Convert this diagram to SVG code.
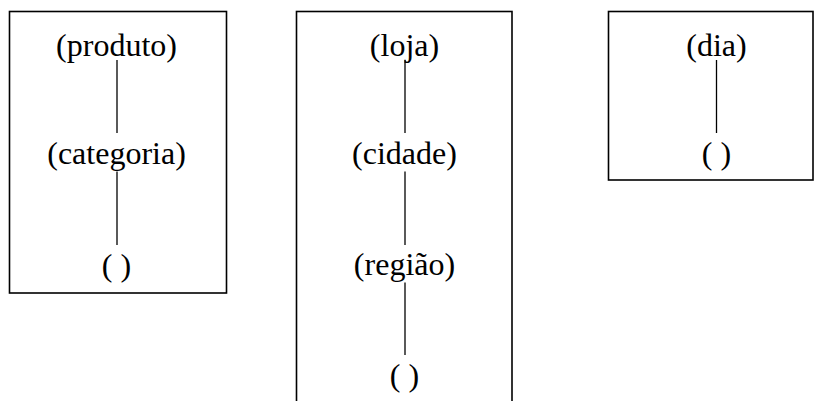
<svg xmlns="http://www.w3.org/2000/svg" width="814" height="401" viewBox="0 0 814 401">
<style>
.box{fill:none;stroke:#000;stroke-width:1.6}
.ln{stroke:#000;stroke-width:1.3;fill:none}
text{font-family:"Liberation Serif","Times New Roman",serif;font-size:32px;fill:#000;text-anchor:middle}
</style>
<rect width="814" height="401" fill="#fff"/>
<g id="dim-produto">
<rect class="box" x="9.5" y="11.5" width="217" height="281.5"/>
<g id="n-produto"><text x="116.5" y="55.5">(produto)</text></g>
<g id="n-categoria"><text x="116.5" y="164">(categoria)</text></g>
<g id="n-produto-all"><text x="116.5" y="275.5">( )</text></g>
</g>
<g id="dim-loja">
<rect class="box" x="296.5" y="11.5" width="215.5" height="400"/>
<g id="n-loja"><text x="404.5" y="55.5">(loja)</text></g>
<g id="n-cidade"><text x="404.5" y="164">(cidade)</text></g>
<g id="n-regiao"><text x="404.5" y="275">(região)</text></g>
<g id="n-loja-all"><text x="404.5" y="386">( )</text></g>
</g>
<g id="dim-dia">
<rect class="box" x="608.5" y="11.5" width="204.5" height="168.5"/>
<g id="n-dia"><text x="716.5" y="55.5">(dia)</text></g>
<g id="n-dia-all"><text x="716.5" y="164">( )</text></g>
</g>
<g id="connectors">
<line class="ln" x1="117" y1="60" x2="117" y2="133"/>
<line class="ln" x1="117" y1="171.5" x2="117" y2="245"/>
<line class="ln" x1="405" y1="60" x2="405" y2="133"/>
<line class="ln" x1="405" y1="171.5" x2="405" y2="245"/>
<line class="ln" x1="405" y1="282.5" x2="405" y2="355"/>
<line class="ln" x1="716.5" y1="60" x2="716.5" y2="133"/>
</g>
</svg>
